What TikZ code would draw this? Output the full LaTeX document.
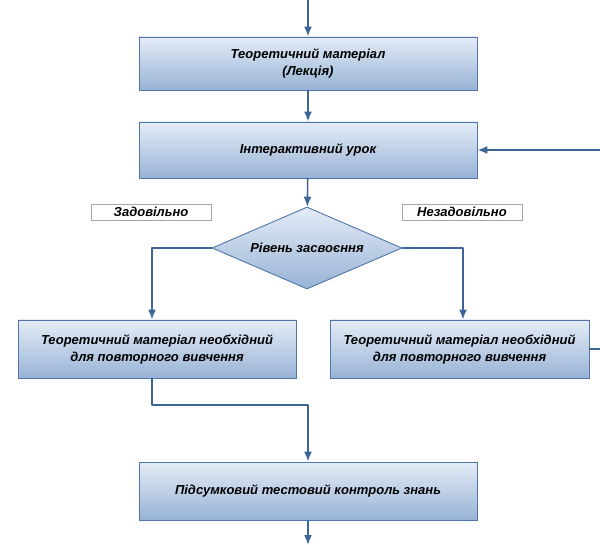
\documentclass[tikz,border=0pt]{standalone}
\usepackage{fontspec}
\setmainfont{Liberation Sans}
\usepackage{tikz}
\usepackage{xcolor}
\usetikzlibrary{shapes.geometric, arrows.meta}

\definecolor{boxtop}{HTML}{E4ECF6}
\definecolor{boxbot}{HTML}{98B3D6}
\definecolor{boxline}{HTML}{4F76A8}
\definecolor{arrline}{HTML}{3D6698}

\begin{document}
\begin{tikzpicture}[x=1pt, y=-1pt]
  \tikzstyle{myline}=[arrline, line width=1.6pt, line cap=round, line join=round];
  \tikzstyle{arr}=[myline, ->, >={Latex[length=10pt, width=8pt]}];
  \tikzstyle{txt}=[font=\fontsize{13}{17}\selectfont\bfseries\itshape, align=center, text=black];
  \tikzstyle{blk}=[txt, rectangle, draw=boxline, line width=0.9pt,
    top color=boxtop, bottom color=boxbot, inner sep=0pt];
  \tikzstyle{lbl}=[txt, rectangle, draw=black!35, fill=white, line width=0.8pt,
    minimum width=120pt, minimum height=16pt, inner sep=0pt];
  \useasboundingbox (0, 0) rectangle (600, 545);
  %
  % main blocks
  \node[blk, minimum width=338pt, minimum height=53pt] (lec) at (308, 63.5)
    {Теоретичний матеріал\\(Лекція)};
  \node[blk, minimum width=338pt, minimum height=56pt] (inter) at (308, 150)
    {Інтерактивний урок};
  \node[blk, diamond, aspect=2.3, minimum width=190pt, minimum height=82pt] (lvl)
    at (307, 248) {Рівень засвоєння};
  \node[blk, minimum width=278pt, minimum height=58pt] (rep1) at (157, 349)
    {Теоретичний матеріал необхідний\\для повторного вивчення};
  \node[blk, minimum width=259pt, minimum height=58pt] (rep2) at (459.5, 349)
    {Теоретичний матеріал необхідний\\для повторного вивчення};
  \node[blk, minimum width=338pt, minimum height=58pt] (final) at (308, 491)
    {Підсумковий тестовий контроль знань};
  %
  % branch labels
  \node[lbl] (ok) at (151, 212) {Задовільно};
  \node[lbl] (notok) at (462, 212) {Незадовільно};
  %
  % free ends
  \coordinate (in) at (308, 0);
  \coordinate (out) at (308, 545);
  \coordinate (fb) at (600, 150);
  \coordinate (back) at (600, 349);
  \coordinate (join) at (308, 405);
  %
  % connectors
  \draw[arr] (in) -- (lec);
  \draw[arr] (lec) -- (inter);
  \draw[arr] (fb) -- (inter);
  \draw[arr] (inter) -- (lvl);
  \draw[arr] (lvl.west) -| ([xshift=-5pt]rep1.north);
  \draw[arr] (lvl.east) -| ([xshift=3.5pt]rep2.north);
  \draw[myline] (rep2.east) -- (back);
  \draw[arr] ([xshift=-5pt]rep1.south) |- (join) -- (final.north);
  \draw[arr] (final) -- (out);
\end{tikzpicture}
\end{document}
